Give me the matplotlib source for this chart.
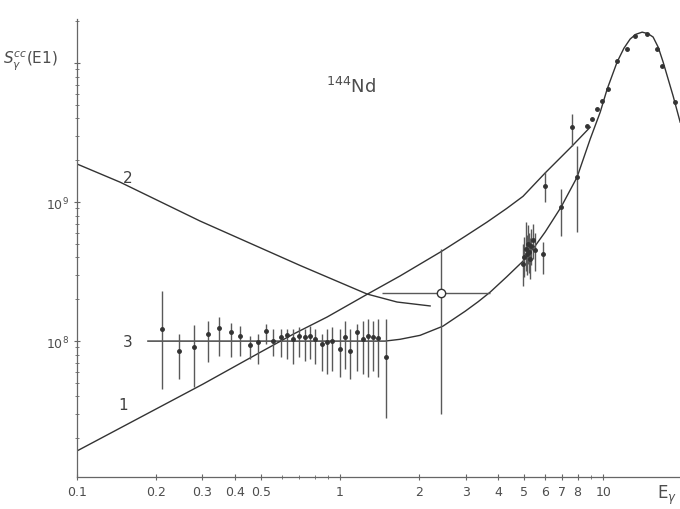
import numpy as np
import matplotlib.pyplot as plt
from matplotlib.ticker import FixedLocator, NullFormatter

# S in units of 1e8, E in MeV
# curve 1
c1_E = [0.1, 0.301, 0.497, 0.663, 0.893, 1.267, 1.69, 2.44, 3.0, 3.62, 4.3, 4.96, 6.02, 7.62, 8.93]
c1_S = [0.162, 0.49, 0.83, 1.12, 1.49, 2.17, 2.94, 4.44, 5.7, 7.18, 9.0, 11.0, 16.2, 25.3, 34.6]
# curve 2
c2_E = [0.1, 0.146, 0.294, 0.705, 1.267, 1.647, 2.20]
c2_S = [18.8, 13.9, 7.3, 3.5, 2.18, 1.91, 1.79]
# curve 3 (flat then GDR)
c3_E = [0.186, 1.483, 1.69, 2.015, 2.46, 2.99, 3.35, 3.72, 4.3, 4.96, 5.5, 6.02, 6.92, 7.96,
        8.93, 9.75, 10.36, 11.3, 12.0, 12.67, 13.3, 14.07, 14.8, 15.49, 16.2, 16.91, 18.46, 19.63]
c3_S = [1.0, 1.0, 1.03, 1.10, 1.28, 1.64, 1.92, 2.25, 2.9, 3.76, 4.8, 6.09, 9.2, 15.1,
        28.4, 44.4, 65, 101.7, 128, 149, 161, 167, 163, 154, 130, 101.7, 57.9, 37.6]

# low energy data
lo_E = [0.211, 0.244, 0.279, 0.315, 0.347, 0.385, 0.417, 0.455, 0.488, 0.523, 0.556, 0.597,
        0.629, 0.663, 0.698, 0.736, 0.769, 0.804, 0.854, 0.893, 0.933, 1.0, 1.045, 1.092,
        1.161, 1.222, 1.277, 1.335, 1.394, 1.496]
lo_S = [1.22, 0.85, 0.91, 1.12, 1.24, 1.16, 1.09, 0.94, 0.98, 1.18, 1.0, 1.07,
        1.10, 1.03, 1.09, 1.07, 1.09, 1.03, 0.95, 0.98, 1.0, 0.876, 1.07, 0.85,
        1.16, 1.03, 1.09, 1.07, 1.05, 0.767]
lo_hi = [2.29, 1.12, 1.30, 1.39, 1.49, 1.35, 1.28, 1.09, 1.12, 1.33, 1.22, 1.22,
         1.22, 1.22, 1.26, 1.22, 1.28, 1.22, 1.12, 1.22, 1.26, 1.22, 1.39, 1.22,
         1.33, 1.39, 1.44, 1.39, 1.44, 1.44]
lo_lo = [0.45, 0.53, 0.47, 0.71, 0.78, 0.77, 0.78, 0.74, 0.68, 0.95, 0.78, 0.77,
         0.74, 0.68, 0.77, 0.72, 0.74, 0.68, 0.61, 0.58, 0.61, 0.55, 0.63, 0.53,
         0.61, 0.58, 0.55, 0.61, 0.55, 0.28]

# open point near 2.4 MeV
op_E = 2.42
op_S = 2.21
op_Elo, op_Ehi = 1.45, 3.72
op_Slo, op_Shi = 0.30, 4.59

# cluster around 5 MeV and points above
hi_E = [4.96, 5.02, 5.08, 5.12, 5.18, 5.22, 5.28, 5.33, 5.40, 5.50,
        5.90, 6.02, 6.92, 7.62, 7.96]
hi_S = [3.6, 4.0, 4.6, 4.2, 5.0, 4.4, 3.9, 4.8, 5.3, 4.5,
        4.23, 13.0, 9.2, 34.6, 15.1]
hi_hi = [5.0, 5.6, 7.2, 5.8, 6.8, 6.0, 5.5, 6.4, 7.0, 6.0,
         5.16, 16.4, 12.4, 43.0, 25.3]
hi_lo = [2.5, 2.9, 3.2, 3.0, 3.6, 3.1, 2.8, 3.5, 3.9, 3.2,
         3.03, 10.0, 5.7, 25.3, 6.1]

# GDR points
gdr_E = [8.69, 9.08, 9.49, 9.91, 10.45, 11.3, 12.34, 13.24, 14.70, 16.04, 16.76, 18.8]
gdr_S = [35.2, 39.6, 46.7, 53.3, 65, 103, 126, 156, 162, 126, 95, 52.4]

xticks = [0.1, 0.2, 0.3, 0.4, 0.5, 1, 2, 3, 4, 5, 6, 7, 8, 10]
xlabels = ['0.1', '0.2', '0.3', '0.4', '0.5', '1', '2', '3', '4', '5', '6', '7', '8', '10']

ink = '0.2'
sc = 1e8

fig = plt.figure(figsize=(6.8, 5.1), dpi=100)
ax = fig.add_axes([0.1132, 0.0627, 0.8868, 0.898])
ax.set_xscale('log')
ax.set_yscale('log')

ax.plot(c1_E, np.array(c1_S) * sc, color=ink, lw=1.0)
ax.plot(c2_E, np.array(c2_S) * sc, color=ink, lw=1.0)
ax.plot(c3_E, np.array(c3_S) * sc, color=ink, lw=1.0)

def bars(E, S, lo, hi):
    S = np.array(S) * sc
    yerr = [S - np.array(lo) * sc, np.array(hi) * sc - S]
    ax.errorbar(E, S, yerr=yerr, fmt='o', ms=2.5, color=ink, ecolor='0.35',
                elinewidth=1.0, capsize=0)

bars(lo_E, lo_S, lo_lo, lo_hi)
bars(hi_E, hi_S, hi_lo, hi_hi)
ax.plot(gdr_E, np.array(gdr_S) * sc, 'o', ms=2.5, color=ink)

ax.errorbar([op_E], [op_S * sc],
            xerr=[[op_E - op_Elo], [op_Ehi - op_E]],
            yerr=[[(op_S - op_Slo) * sc], [(op_Shi - op_S) * sc]],
            fmt='o', ms=6, mfc='white', mec=ink, mew=1.0, color=ink,
            ecolor='0.35', elinewidth=1.0, capsize=0, zorder=5)

ax.set_xlim(0.1, 19.6)
ax.set_ylim(10 ** 7.022, 10 ** 10.317)

for s in ['top', 'right']:
    ax.spines[s].set_visible(False)
for s in ['left', 'bottom']:
    ax.spines[s].set_color('0.4')
    ax.spines[s].set_linewidth(0.9)

ax.xaxis.set_major_locator(FixedLocator(xticks))
ax.set_xticklabels(xlabels)
ax.xaxis.set_minor_locator(FixedLocator([0.6, 0.7, 0.8, 0.9, 9, 20]))
ax.xaxis.set_minor_formatter(NullFormatter())
ax.yaxis.set_major_locator(FixedLocator([1e8, 1e9, 1e10]))
ax.set_yticklabels([r'$10^8$', r'$10^9$', ''])
ax.tick_params(which='both', direction='inout', colors='0.4', labelcolor='0.3',
               labelsize=9)
ax.tick_params(which='major', length=5)
ax.tick_params(which='minor', length=3)

ax.text(0.143, 0.324 * sc, '1', fontsize=11, color='0.25')
ax.text(0.150, 14.0 * sc, '2', fontsize=11, color='0.25')
ax.text(0.163, 1.0 * sc, '3', fontsize=11, color='0.25', ha='right', va='center')
ax.text(1.1, 62 * sc, r'$^{144}$Nd', fontsize=13, color='0.3', ha='center')

fig.text(0.005, 0.875, r'$S_\gamma^{cc}$(E1)', fontsize=11, color='0.3')
fig.text(0.995, 0.022, r'E$_\gamma$', fontsize=12, color='0.3', ha='right')

fig.savefig('out.png', dpi=100)
